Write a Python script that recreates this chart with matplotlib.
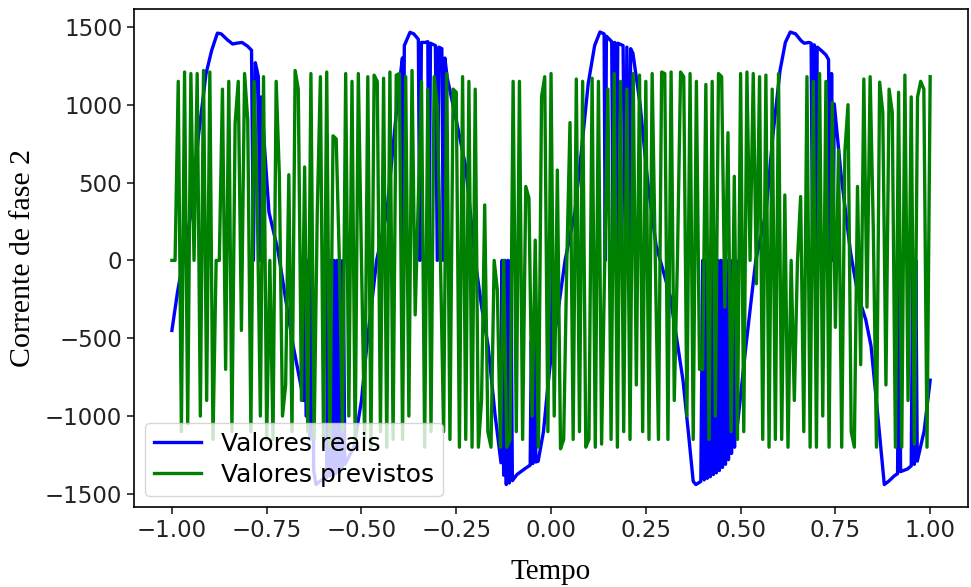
import numpy as np
import matplotlib
matplotlib.use("Agg")
import matplotlib.pyplot as plt

# ---- data ----
# "Valores reais" (blue): time / value samples, including the dropout samples at 0
real_t = [
    -1.000, -0.985, -0.970, -0.950, -0.930, -0.910, -0.895, -0.880, -0.870, -0.855,
    -0.840, -0.830, -0.815, -0.800, -0.790, -0.785, -0.780, -0.772, -0.768, -0.764,
    -0.755, -0.744, -0.720, -0.700, -0.680, -0.657, -0.654, -0.650, -0.646, -0.640,
    -0.636, -0.630, -0.626, -0.620, -0.610, -0.598, -0.592, -0.588, -0.584, -0.580,
    -0.576, -0.572, -0.568, -0.564, -0.560, -0.556, -0.552, -0.548, -0.544, -0.520,
    -0.500, -0.486, -0.460, -0.433, -0.410, -0.396, -0.392, -0.390, -0.387, -0.372,
    -0.362, -0.350, -0.346, -0.342, -0.332, -0.325, -0.322, -0.318, -0.305, -0.300,
    -0.296, -0.288, -0.284, -0.280, -0.274, -0.250, -0.225, -0.200, -0.183, -0.166,
    -0.148, -0.132, -0.129, -0.125, -0.122, -0.118, -0.114, -0.110, -0.106, -0.102,
    -0.090, -0.070, -0.055, -0.052, -0.048, -0.044, -0.040, -0.034, -0.020, -0.008,
    0.000, 0.004, 0.008, 0.020, 0.037, 0.063, 0.080, 0.098, 0.115, 0.129,
    0.140, 0.143, 0.146, 0.160, 0.164, 0.168, 0.172, 0.176, 0.190, 0.196,
    0.200, 0.206, 0.210, 0.216, 0.235, 0.255, 0.277, 0.295, 0.314, 0.330,
    0.348, 0.362, 0.375, 0.382, 0.395, 0.400, 0.404, 0.408, 0.412, 0.416,
    0.420, 0.424, 0.428, 0.432, 0.436, 0.440, 0.444, 0.448, 0.452, 0.456,
    0.460, 0.464, 0.468, 0.472, 0.476, 0.480, 0.484, 0.488, 0.492, 0.514,
    0.540, 0.567, 0.585, 0.604, 0.618, 0.631, 0.645, 0.660, 0.668, 0.680,
    0.686, 0.690, 0.694, 0.698, 0.702, 0.712, 0.725, 0.732, 0.736, 0.740,
    0.744, 0.747, 0.765, 0.790, 0.810, 0.830, 0.844, 0.860, 0.879, 0.890,
    0.905, 0.914, 0.918, 0.922, 0.940, 0.950, 0.954, 0.958, 0.962, 0.966,
    0.984, 1.000,
]
real_v = [
    -450, -200, 0, 300, 800, 1200, 1350, 1460, 1455, 1420,
    1390, 1395, 1400, 1375, 1350, 0, 1270, 1180, 0, 1050,
    700, 310, 60, -250, -550, -840, -900, 0, -1000, 0,
    -1150, 0, -1350, -1440, -1420, -1400, -1395, 0, -1385, 0,
    -1378, 0, -1370, 0, -1355, 0, -1335, 0, -1310, -1200,
    -900, -550, 0, 310, 900, 1220, 1300, 0, 1380, 1465,
    1455, 1420, 0, 1400, 1400, 1405, 0, 1395, 1380, 0,
    1370, 1360, 0, 1300, 1175, 900, 600, 0, -300, -550,
    -985, -1300, 0, -1380, 0, -1440, 0, -1430, 0, -1415,
    -1376, -1340, -1315, -520, -1305, -520, -1295, -1290, -1100, -800,
    -620, 0, -500, -300, 0, 310, 700, 1135, 1380, 1467,
    1455, 0, 1440, 1405, 0, 1400, 0, 1395, 1380, 0,
    1370, 0, 1360, 1330, 1000, 500, 97, -60, -227, -480,
    -770, -1100, -1420, -1440, -1420, 0, -1410, 0, -1400, 0,
    -1390, 0, -1376, 0, -1365, 0, -1350, 0, -1330, 0,
    -1310, 0, -1280, 0, -1240, 0, -1200, 0, -1050, -550,
    0, 310, 800, 1220, 1400, 1467, 1455, 1410, 1395, 1400,
    1395, 0, 1385, 0, 1370, 1350, 1320, 1290, 0, 1200,
    0, 1005, 550, 50, -227, -380, -550, -950, -1440, -1420,
    -1385, -1370, 0, -1357, -1340, -1320, 0, -1310, 0, -1290,
    -1097, -770,
]

# "Valores previstos" (green): one value per time step from -1 to 1
pred_v = [
    0, 0, 1150, -1100, 1210, -1050, 1200, 0, 1200, -1000, 1220, -900,
    1210, -1150, 0, 0, 1100, -700, 1150, -1100, 880, 1150, -450, 1200,
    900, -1100, 1150, 400, -1000, 1180, -1150, 0, -1150, 1150, 550, -1000,
    -800, 550, -1100, 1220, 1100, -900, 600, -1100, 1200, -1150, 300, 1180,
    -1200, 1210, -1200, 800, 780, 0, -1100, 1200, -1000, 1150, -1180, 1200,
    0, -1150, 1180, -1200, 1190, 1150, -1100, 1170, -1200, 1210, -1150, 1190,
    1200, -1150, 1180, -1000, 1220, -350, 400, 1150, -1200, 1100, -1100, 1180,
    1000, 0, -1100, 1200, -1150, 1100, 1080, -1200, 1180, -1150, 1150, -1200,
    1100, -1200, -900, 356, -1100, -1200, 0, -190, -1200, 0, -1200, -1150,
    1150, -1100, 1150, -1150, 475, 400, -1000, 130, -1200, 1050, 1180, -1100,
    1200, -1000, 580, -1210, -1150, 0, 885, -1150, 1165, -1100, 1150, -1200,
    -1150, 1170, -1200, 1150, -1180, 0, 1100, -1150, 1200, -1200, 1150, -1100,
    1100, -1150, 1200, -800, 1190, -1100, 1150, -1150, 1200, 0, -1150, 1210,
    1200, -1150, 1210, -900, 0, 1210, 1180, -1000, 1200, -1150, 1150, -700,
    -700, 1130, -1150, 1150, -1000, 1200, 1180, -300, 820, -1100, 540, -1150,
    1200, -1100, 1210, 0, 1200, -150, 1180, -1150, 1190, -1200, 1100, -1150,
    1200, -1150, 420, -1200, 0, -900, 0, 410, -1100, 1180, -1200, 1150,
    -1200, 1200, -1000, 1150, -1200, 1015, -430, 710, -1200, 700, 1000, -1100,
    -1200, 475, -670, 1165, -300, 1180, 200, -1200, 1145, 950, -800, 1100,
    950, -1200, 1080, -1200, 1190, -900, 1050, -1180, 1050, 1150, 1100, -1200,
    1180,
]
pred_t = np.linspace(-1.0, 1.0, len(pred_v))

x_ticks = [-1.00, -0.75, -0.50, -0.25, 0.00, 0.25, 0.50, 0.75, 1.00]
y_ticks = [-1500, -1000, -500, 0, 500, 1000, 1500]
labels = ["Valores reais", "Valores previstos"]

# ---- figure ----
fig = plt.figure(figsize=(9.71, 5.87), dpi=100)
ax = fig.add_axes([0.138, 0.136, 0.859, 0.848])

ax.plot(real_t, real_v, color="b", lw=2.4, label=labels[0])
ax.plot(pred_t, pred_v, color="g", lw=2.4, label=labels[1])

ax.set_xticks(x_ticks)
ax.set_yticks(y_ticks)
ax.tick_params(labelsize=16.5, length=5, width=1.2, colors="#222222")
for s in ax.spines.values():
    s.set_linewidth(1.2)

ax.set_xlabel("Tempo", family="Liberation Serif", fontsize=21, labelpad=12)
ax.set_ylabel("Corrente de fase 2", family="Liberation Serif", fontsize=21.5, labelpad=6)

leg = ax.legend(loc="lower left", fontsize=18, framealpha=0.8, handlelength=1.9,
                borderaxespad=0.45, borderpad=0.35, labelspacing=0.3)

fig.savefig("out.png", dpi=100)
